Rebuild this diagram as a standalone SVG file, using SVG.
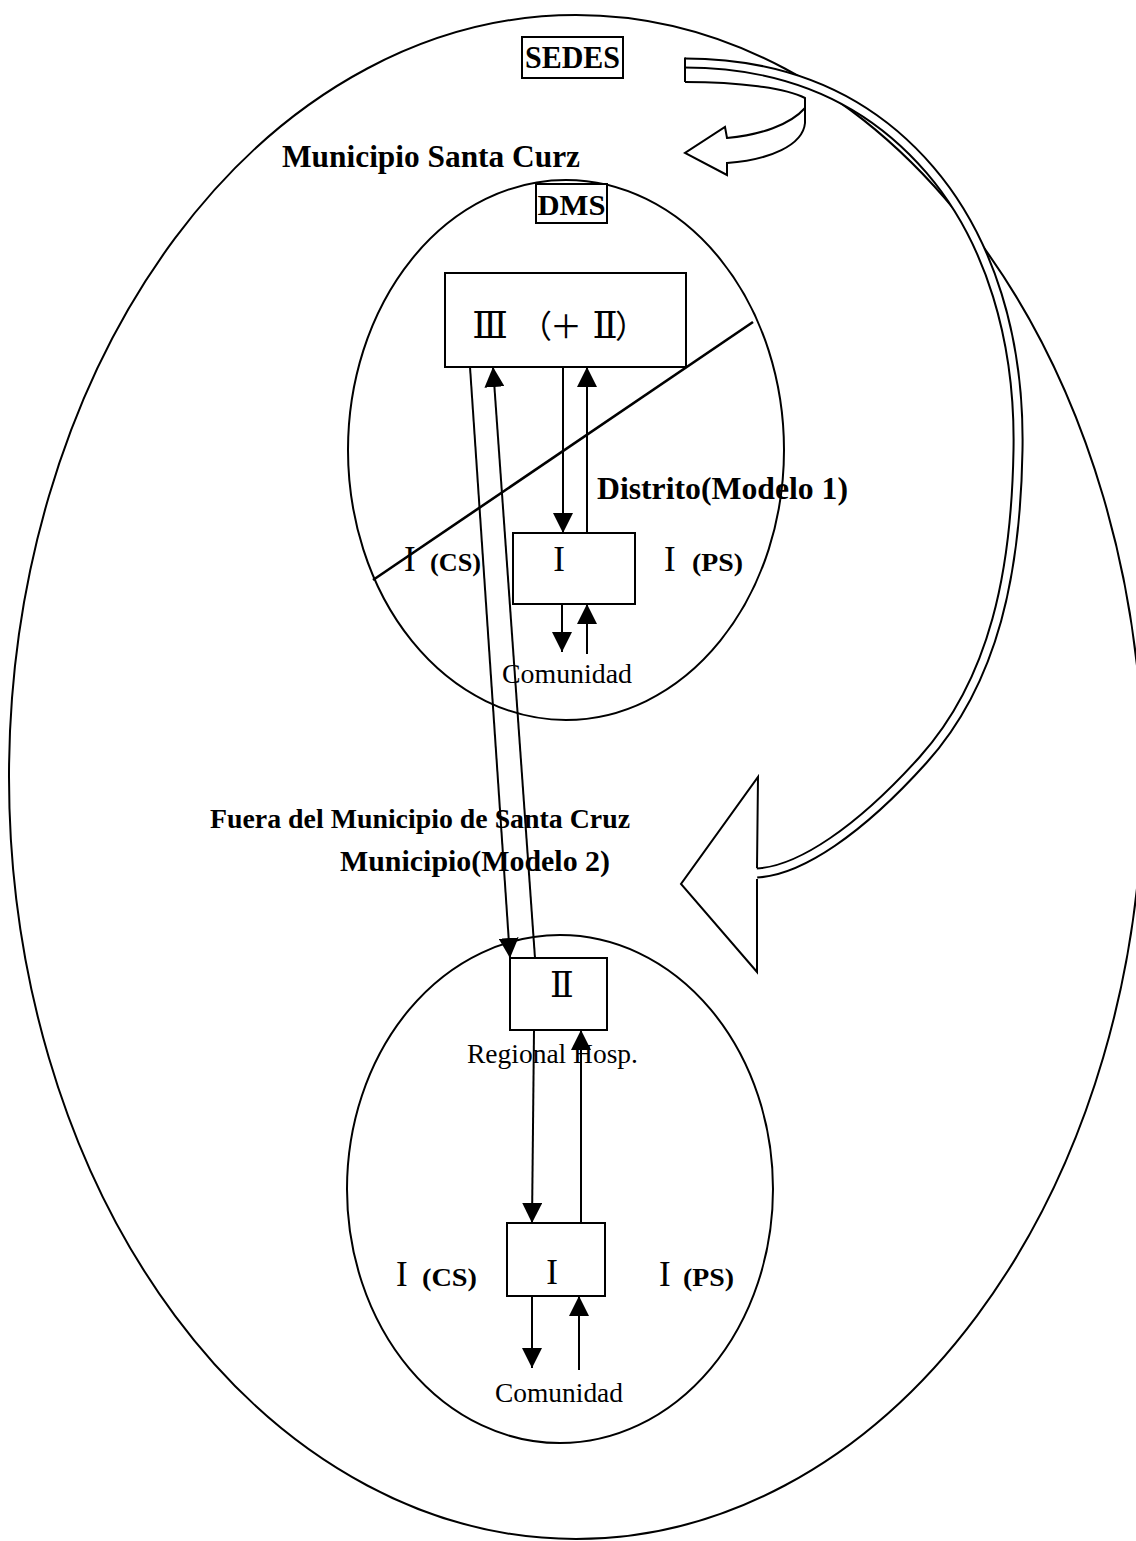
<svg xmlns="http://www.w3.org/2000/svg" width="1136" height="1541" viewBox="0 0 1136 1541">
<style>
.ln{stroke:#000;stroke-width:2;fill:none}
.thick{stroke:#000;stroke-width:2.6;fill:none}
.box{fill:#fff;stroke:#000;stroke-width:2}
.t{font-family:"Liberation Serif","Times New Roman",serif;fill:#000}
.b{font-weight:bold}
.rn{font-family:"DejaVu Serif","Noto Sans CJK JP",serif;fill:#000}
</style>
<defs>
<marker id="ah" viewBox="0 0 20 20" refX="20" refY="10" markerWidth="20" markerHeight="20" markerUnits="userSpaceOnUse" orient="auto">
<path d="M0,0 L20,10 L0,20 z" fill="#000"/>
</marker>
</defs>
<rect width="1136" height="1541" fill="#fff"/>

<g id="regions">
<ellipse id="outer" class="ln" cx="576" cy="777" rx="567" ry="762"/>
<ellipse id="distrito-area" class="ln" cx="566" cy="450" rx="218" ry="270"/>
<ellipse id="municipio-area" class="ln" cx="560" cy="1189" rx="213" ry="254"/>
<line class="thick" x1="753" y1="322" x2="373" y2="580"/>
</g>

<g id="sedes-arrows">
<path d="M685,63 C790,63 870,100 930,170 C990,240 1020,340 1018,450 C1016,570 995,680 923,760 C860,830 800,871 757,873" stroke="#000" stroke-width="11" fill="none"/>
<path d="M684,63 C790,63 870,100 930,170 C990,240 1020,340 1018,450 C1016,570 995,680 923,760 C860,830 800,871 756,873" stroke="#fff" stroke-width="7" fill="none"/>
<path class="ln" d="M757,868 L758,777 L681,884 L757,972 L757,879"/>
<line class="ln" x1="685" y1="57.5" x2="685" y2="82"/>
<path class="ln" d="M685,82 C740,82 785,88 805,98 L805,123 C803,145 770,160 727,163 L727,175 L685,153 L725,127 L727,138 C760,135 790,125 805,108"/>
</g>

<g id="labels">
<text class="t b" x="282" y="167" font-size="31" textLength="298" lengthAdjust="spacingAndGlyphs">Municipio Santa Curz</text>
<text class="t b" x="597" y="499" font-size="31" textLength="251" lengthAdjust="spacingAndGlyphs">Distrito(Modelo 1)</text>
<text class="t b" x="404" y="571" font-size="35"><tspan font-weight="normal">I </tspan><tspan x="430" font-size="26" textLength="51" lengthAdjust="spacingAndGlyphs">(CS)</tspan></text>
<text class="t b" x="664" y="571" font-size="35"><tspan font-weight="normal">I </tspan><tspan x="692" font-size="26" textLength="51" lengthAdjust="spacingAndGlyphs">(PS)</tspan></text>
<text class="t" x="502" y="683" font-size="27" textLength="130" lengthAdjust="spacingAndGlyphs">Comunidad</text>
<text class="t b" x="210" y="828" font-size="27" textLength="420" lengthAdjust="spacingAndGlyphs">Fuera del Municipio de Santa Cruz</text>
<text class="t b" x="340" y="871" font-size="30" textLength="270" lengthAdjust="spacingAndGlyphs">Municipio(Modelo 2)</text>
<text class="t" x="467" y="1063" font-size="27" textLength="171" lengthAdjust="spacingAndGlyphs">Regional Hosp.</text>
<text class="t b" x="396" y="1286" font-size="35"><tspan font-weight="normal">I </tspan><tspan x="422" font-size="26" textLength="55" lengthAdjust="spacingAndGlyphs">(CS)</tspan></text>
<text class="t b" x="659" y="1286" font-size="35"><tspan font-weight="normal">I </tspan><tspan x="683" font-size="26" textLength="51" lengthAdjust="spacingAndGlyphs">(PS)</tspan></text>
<text class="t" x="495" y="1402" font-size="27" textLength="128" lengthAdjust="spacingAndGlyphs">Comunidad</text>
</g>

<g id="connectors">
<line class="ln" x1="563" y1="367" x2="563" y2="533" marker-end="url(#ah)"/>
<line class="ln" x1="587" y1="533" x2="587" y2="367" marker-end="url(#ah)"/>
<line class="ln" x1="562" y1="604" x2="562" y2="652" marker-end="url(#ah)"/>
<line class="ln" x1="587" y1="654" x2="587" y2="604" marker-end="url(#ah)"/>
<line class="ln" x1="470" y1="367" x2="510" y2="958" marker-end="url(#ah)"/>
<line class="ln" x1="535" y1="958" x2="493" y2="367" marker-end="url(#ah)"/>
<line class="ln" x1="534" y1="1030" x2="532" y2="1223" marker-end="url(#ah)"/>
<line class="ln" x1="581" y1="1223" x2="581" y2="1030" marker-end="url(#ah)"/>
<line class="ln" x1="532" y1="1296" x2="532" y2="1368" marker-end="url(#ah)"/>
<line class="ln" x1="579" y1="1370" x2="579" y2="1296" marker-end="url(#ah)"/>
</g>

<g id="node-sedes">
<rect class="box" x="522" y="37" width="101" height="41"/>
<text class="t b" x="572.5" y="68" font-size="31" text-anchor="middle" textLength="95" lengthAdjust="spacingAndGlyphs">SEDES</text>
</g>
<g id="node-dms">
<rect class="box" x="536" y="184" width="71" height="39"/>
<text class="t b" x="571.5" y="215" font-size="30" text-anchor="middle" textLength="68" lengthAdjust="spacingAndGlyphs">DMS</text>
</g>
<g id="node-III">
<rect class="box" x="445" y="273" width="241" height="94"/>
<text class="rn" y="338" font-size="37" text-anchor="middle"><tspan x="490">Ⅲ</tspan><tspan x="512"> </tspan><tspan x="536" font-family="Noto Sans CJK JP" font-size="32">（</tspan><tspan x="566" font-family="Noto Sans CJK JP" font-size="32">＋</tspan><tspan x="605">Ⅱ</tspan><tspan x="631" font-family="Noto Sans CJK JP" font-size="32">）</tspan></text>
</g>
<g id="node-I-distrito">
<rect class="box" x="513" y="533" width="122" height="71"/>
<text class="t" x="559" y="571" font-size="35" text-anchor="middle">I</text>
</g>
<g id="node-II">
<rect class="box" x="510" y="958" width="97" height="72"/>
<text class="rn" x="562" y="997" font-size="35" text-anchor="middle">Ⅱ</text>
</g>
<g id="node-I-municipio">
<rect class="box" x="507" y="1223" width="98" height="73"/>
<text class="t" x="552" y="1284" font-size="35" text-anchor="middle">I</text>
</g>
</svg>
